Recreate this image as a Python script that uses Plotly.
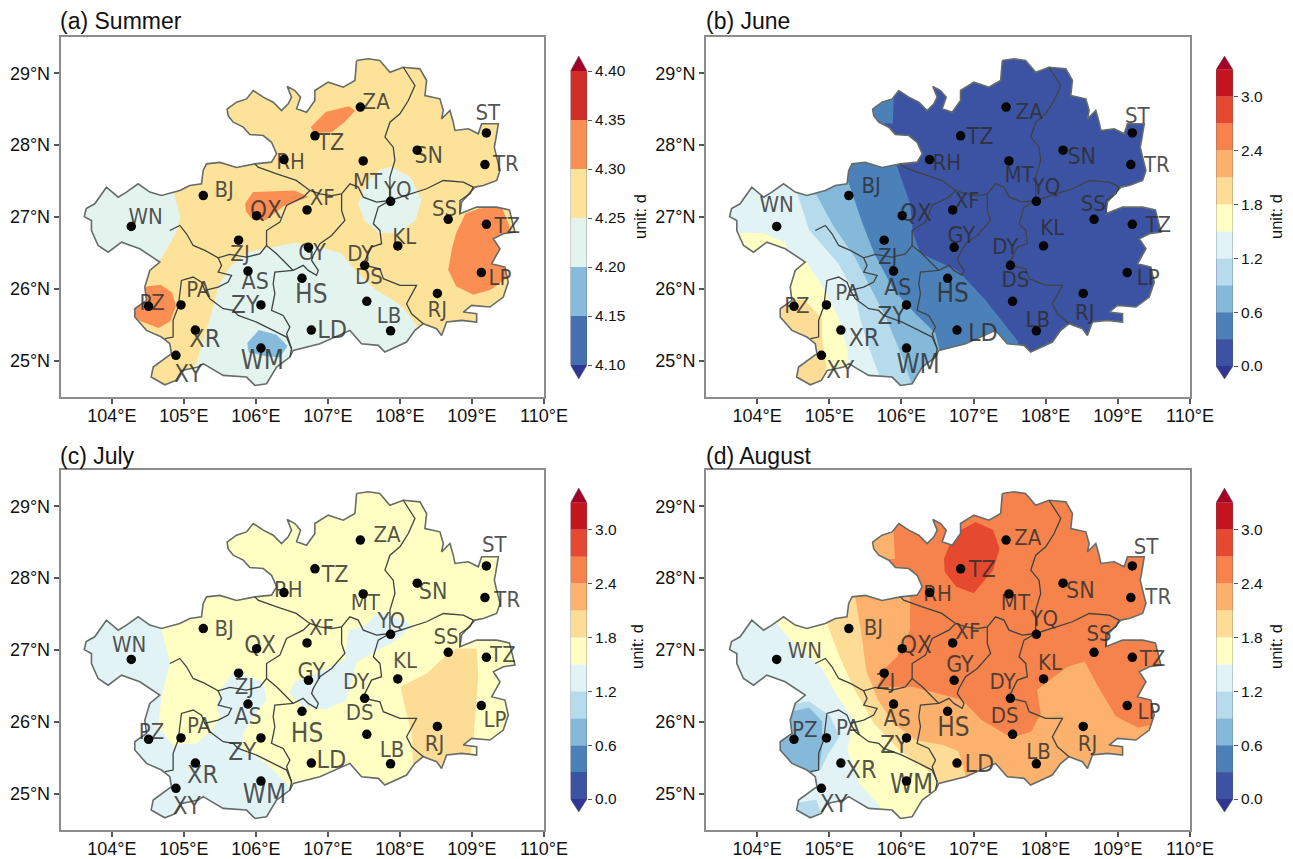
import plotly.graph_objects as go

W, H = 1293, 859

# ---------- data (degrees) ----------
XTICKS = [104, 105, 106, 107, 108, 109, 110]
XTICK_LABELS = ["104°E", "105°E", "106°E", "107°E", "108°E", "109°E", "110°E"]
YTICKS = [25, 26, 27, 28, 29]
YTICK_LABELS = ["25°N", "26°N", "27°N", "28°N", "29°N"]
LON_RANGE = [103.29, 110.0]
LAT_RANGE = [24.5, 29.51]

OUTLINE = [
    (107.398,29.176),(107.56,29.2),(107.72,29.176),(107.861,29.014),(108.046,29.083),(108.278,29.06),
    (108.37,28.898),(108.347,28.69),(108.555,28.644),(108.602,28.482),(108.578,28.366),(108.694,28.482),
    (108.74,28.32),(108.764,28.204),(108.949,28.227),(109.088,28.158),(109.134,28.297),(109.366,28.297),
    (109.328,28.065),(109.31,27.973),(109.343,27.834),(109.389,27.649),(109.343,27.51),(109.157,27.44),
    (109.041,27.417),(108.856,27.209),(108.833,27.046),(109.065,27.139),(109.343,27.139),(109.52,27.1),
    (109.597,26.792),(109.435,26.769),(109.296,26.699),(109.389,26.56),(109.273,26.352),(109.458,26.306),
    (109.504,26.097),(109.435,25.889),(109.25,25.75),(108.995,25.773),(108.879,25.681),(109.065,25.657),
    (109.065,25.542),(108.856,25.565),(108.648,25.542),(108.578,25.356),(108.509,25.449),
    (108.324,25.519),(108.208,25.426),(108.092,25.264),(107.791,25.125),(107.699,25.218),(107.467,25.241),
    (107.305,25.426),(106.889,25.241),(106.518,25.148),(106.472,25.055),(106.287,24.916),(106.148,24.685),
    (105.986,24.661),(105.87,24.777),(105.546,24.8),(105.268,24.963),(105.199,24.916),(104.972,24.87),
    (104.889,24.731),(104.736,24.67),(104.546,24.777),(104.574,24.916),(104.736,25.032),(104.828,25.101),
    (104.805,25.24),(104.689,25.333),(104.481,25.426),(104.319,25.611),(104.319,25.726),(104.481,25.842),
    (104.458,26.027),(104.527,26.259),(104.666,26.375),(104.527,26.467),(104.388,26.56),(104.134,26.652),
    (103.949,26.513),(103.81,26.606),(103.717,26.814),(103.717,26.953),(103.617,27.007),(103.644,27.12),
    (103.763,27.185),(103.925,27.416),(104.088,27.277),(104.203,27.347),(104.365,27.463),(104.527,27.347),
    (104.689,27.3),(104.944,27.37),(105.083,27.44),(105.245,27.463),(105.268,27.648),(105.315,27.74),
    (105.5,27.76),(105.73,27.69),(105.986,27.74),(106.217,27.764),(106.287,27.88),(106.217,28.04),
    (106.102,28.134),(105.916,28.148),(105.824,28.25),(105.685,28.32),(105.615,28.41),(105.6,28.5),
    (105.731,28.597),(105.87,28.643),(105.963,28.759),(106.102,28.667),(106.24,28.597),(106.356,28.481),
    (106.449,28.574),(106.495,28.667),(106.435,28.815),(106.541,28.759),(106.62,28.667),(106.565,28.505),
    (106.703,28.458),(106.819,28.62),(106.819,28.759),(107.004,28.875),(107.213,28.805),(107.375,28.898),
    (107.398,29.176),
]
BORDER_BIJIE = [
    (104.805,26.814),(104.944,26.884),(105.037,26.768),(105.129,26.606),(105.291,26.537),(105.476,26.435),
    (105.638,26.481),(105.87,26.444),(106.055,26.49),(106.148,26.606),(106.148,26.814),(106.333,26.93),
    (106.425,27.162),(106.657,27.277),(106.75,27.37),(106.56,27.51),(106.29,27.6),(106.03,27.694),(105.986,27.74),
]
BORDER_NORTH = [
    (106.75,27.37),(106.889,27.324),(107.051,27.3),(107.19,27.324),(107.305,27.463),(107.421,27.417),
    (107.491,27.278),(107.676,27.208),(107.861,27.231),(108.139,27.324),(108.37,27.394),(108.602,27.509),
    (108.88,27.486),(109.018,27.417),(108.972,27.324),(108.833,27.231),(108.833,27.046),
]
BORDER_TONGREN = [
    (108.046,29.083),(108.208,28.829),(108.116,28.62),(108.0,28.435),(107.861,28.319),(107.792,28.111),
    (107.907,27.972),(107.93,27.787),(107.861,27.555),(107.861,27.231),
]
BORDER_GUIYANG = [
    (107.19,27.324),(107.19,27.09),(107.236,26.954),(107.051,26.745),(106.889,26.63),(106.796,26.467),
    (106.773,26.398),(106.866,26.259),(106.842,26.19),(106.727,26.259),(106.657,26.329),(106.518,26.259),
]
BORDER_QIANNAN = [
    (106.148,26.606),(106.287,26.49),(106.425,26.351),(106.518,26.259),(106.263,26.236),(106.24,26.074),
    (106.263,25.935),(106.217,25.703),(106.379,25.634),(106.472,25.472),(106.426,25.379),(106.495,25.171),(106.472,25.055),
]
BORDER_QIANXINAN = [
    (104.736,25.31),(104.851,25.333),(104.851,25.565),(104.921,25.75),(104.944,25.935),(104.967,26.12),
    (105.129,26.167),(105.245,26.097),(105.291,25.981),(105.361,25.865),(105.546,25.727),(105.685,25.703),
    (105.754,25.634),(106.009,25.541),(106.24,25.425),(106.425,25.333),(106.495,25.171),
]
BORDER_ANSHUN = [
    (105.476,26.435),(105.523,26.328),(105.476,26.236),(105.662,26.19),(105.615,26.097),(105.476,26.027),(105.291,25.981),
]
BORDER_QIANDONGNAN = [
    (107.861,27.231),(107.699,27.139),(107.63,26.907),(107.722,26.815),(107.745,26.63),(107.606,26.583),
    (107.514,26.398),(107.514,26.329),(107.722,26.282),(107.769,26.144),(108.0,26.051),(108.231,26.051),
    (108.092,25.796),(108.162,25.657),(108.324,25.519),
]
BORDERS = [BORDER_BIJIE, BORDER_NORTH, BORDER_TONGREN, BORDER_GUIYANG, BORDER_QIANNAN,
           BORDER_QIANXINAN, BORDER_ANSHUN, BORDER_QIANDONGNAN]

STATION_LON = [104.27,105.27,106.01,105.76,105.89,104.51,104.96,106.07,105.16,104.89,106.07,106.77,106.64,106.73,106.71,
               106.39,106.82,107.45,107.49,107.87,108.24,109.20,109.18,108.67,109.20,107.97,107.51,107.54,107.87,108.52,109.13]
STATION_LAT = [26.87,27.30,27.02,26.68,26.25,25.76,25.78,25.78,25.43,25.08,25.18,25.43,26.15,26.58,27.10,
               27.80,28.13,28.53,27.78,27.22,27.93,28.17,27.73,26.97,26.90,26.60,26.33,25.83,25.42,25.94,26.23]
LABELS = ["WN","BJ","QX","ZJ","AS","PZ","PA","ZY","XR","XY","WM","LD","HS","GY","XF",
          "RH","TZ","ZA","MT","YQ","SN","ST","TR","SS","TZ","KL","DY","DS","LB","RJ","LP"]
LABEL_SIZES = [22,22,24,22,23,22,22,24,25,24,26,25,26,23,22,
               22,23,22,22,22,23,22,22,22,22,22,22,22,22,22,22]

LABELS_A = [(104.47,26.98),(105.56,27.35),(106.14,27.07),(105.78,26.47),(105.99,26.08),(104.56,25.79),(105.2,25.96),
            (105.85,25.75),(105.29,25.28),(105.06,24.79),(106.09,24.98),(107.06,25.41),(106.77,25.90),(106.78,26.48),
            (106.92,27.24),(106.48,27.75),(107.04,28.01),(107.67,28.58),(107.55,27.47),(107.97,27.35),(108.40,27.83),
            (109.22,28.42),(109.47,27.72),(108.62,27.09),(109.49,26.85),(108.06,26.70),(107.45,26.46),(107.57,26.15),
            (107.85,25.60),(108.52,25.69),(109.39,26.13)]
LABELS_B = [(104.27,27.15),(105.58,27.41),(106.20,27.03),(105.81,26.43),(105.95,26.0),(104.55,25.75),(105.25,25.92),
            (105.86,25.6),(105.48,25.30),(105.15,24.85),(106.23,24.93),(107.13,25.36),(106.71,25.91),(106.83,26.72),
            (106.91,27.21),(106.63,27.73),(107.09,28.10),(107.77,28.44),(107.63,27.56),(108.01,27.40),(108.5,27.82),
            (109.27,28.39),(109.54,27.70),(108.66,27.16),(109.56,26.87),(108.09,26.83),(107.44,26.57),(107.58,26.11),
            (107.89,25.55),(108.54,25.65),(109.42,26.13)]
LABELS_C = [(104.24,27.05),(105.56,27.27),(106.06,27.05),(105.84,26.47),(105.89,26.05),(104.55,25.84),(105.21,25.92),
            (105.81,25.56),(105.26,25.24),(105.04,24.81),(106.12,24.97),(107.05,25.45),(106.71,25.82),(106.77,26.68),
            (106.91,27.28),(106.45,27.81),(107.10,28.03),(107.82,28.58),(107.52,27.63),(107.88,27.38),(108.46,27.79),
            (109.31,28.44),(109.49,27.68),(108.64,27.16),(109.43,26.91),(108.07,26.83),(107.39,26.54),(107.44,26.11),
            (107.89,25.59),(108.48,25.68),(109.32,26.01)]
LABELS_D = [(104.66,26.96),(105.61,27.28),(106.20,27.05),(105.78,26.53),(105.94,26.03),(104.66,25.87),(105.26,25.9),
            (105.9,25.66),(105.44,25.31),(105.06,24.83),(106.14,25.10),(107.08,25.39),(106.72,25.9),(106.81,26.78),
            (106.92,27.23),(106.5,27.76),(107.12,28.10),(107.75,28.54),(107.58,27.63),(107.98,27.41),(108.48,27.81),
            (109.39,28.41),(109.56,27.72),(108.74,27.2),(109.48,26.86),(108.06,26.8),(107.4,26.53),(107.43,26.07),
            (107.9,25.57),(108.58,25.68),(109.43,26.12)]

# band colours
SUMMER_LEVELS = [4.10, 4.15, 4.20, 4.25, 4.30, 4.35, 4.40]
SUMMER_COLORS = ["#4470b0", "#86bbdc", "#e3f4ee", "#fde39a", "#fb8f53", "#d12e27"]
MONTH_LEVELS = [0.0, 0.3, 0.6, 0.9, 1.2, 1.5, 1.8, 2.1, 2.4, 2.7, 3.0, 3.3]
MONTH_COLORS = ["#3c52a3", "#4c80b9", "#85b9da", "#b5dbec", "#e2f3f6", "#ffffc4", "#fddc96",
                "#fcb26c", "#f6824c", "#e5492f", "#c5161f"]
LOW_TIP, HIGH_TIP = "#313695", "#a50026"
SUMMER_TICKS = [4.10, 4.15, 4.20, 4.25, 4.30, 4.35, 4.40]
MONTH_TICKS = [0.0, 0.6, 1.2, 1.8, 2.4, 3.0]

# (a) Summer regions
A_BASE = "#fde39a"
A_WEST = [(103.3,27.7),(104.84,27.42),(104.95,27.0),(104.89,26.78),(104.68,26.41),(103.3,26.3)]
A_YQ = [(107.87,27.70),(108.14,27.56),(108.30,27.24),(108.22,26.96),(107.98,26.78),(107.71,26.78),(107.5,26.96),
        (107.42,27.19),(107.53,27.47),(107.71,27.65)]
A_SOUTH = [(105.16,24.93),(105.40,25.72),(105.48,26.04),(105.64,26.31),(105.90,26.52),(106.28,26.59),(106.54,26.64),
           (106.86,26.59),(107.18,26.50),(107.39,26.25),(107.66,25.99),(107.93,25.83),(108.06,25.72),(108.24,25.48),
           (108.46,24.5),(105.16,24.5)]
A_TZ = [(106.76,28.25),(106.97,28.46),(107.29,28.54),(107.38,28.48),(107.23,28.32),(107.05,28.18),(106.81,28.17)]
A_QX = [(105.85,27.19),(105.96,27.35),(106.54,27.37),(106.73,27.28),(106.38,27.15),(106.14,26.96),(105.96,26.96),(105.86,27.08)]
A_EAST = [(108.91,27.05),(109.10,27.12),(109.41,27.15),(109.52,26.87),(109.44,26.5),(109.52,26.18),(109.26,25.99),
          (109.02,25.92),(108.78,26.04),(108.67,26.27),(108.72,26.55),(108.78,26.78)]
A_PZ = [(104.49,26.04),(104.68,26.06),(104.84,25.95),(104.89,25.76),(104.81,25.55),(104.65,25.46),(104.41,25.55),(104.2,25.67),(104.39,25.95)]
A_WM = [(105.88,25.25),(106.04,25.43),(106.28,25.37),(106.44,25.21),(106.33,25.05),(106.12,25.07),(105.9,25.12)]

# (b) June regions
B_POCKET = [(105.2,28.8),(105.9,28.8),(105.88,28.3),(105.2,28.3)]
B_06 = [(105.91,27.79),(106.12,27.19),(106.16,26.78),(106.26,26.5),(106.79,26.25),(107.16,25.85),(107.61,25.28),(107.74,24.5),(103.3,24.5),(103.3,27.8)]
B_09 = [(105.19,27.7),(105.33,27.28),(105.46,26.91),(105.62,26.5),(105.89,25.99),(106.2,25.65),(106.47,25.39),(106.58,24.93),(106.58,24.5),(103.3,24.5),(103.3,27.7)]
B_12 = [(104.82,27.31),(105.06,26.87),(105.35,26.45),(105.59,25.99),(105.78,25.62),(105.91,25.3),(106.04,24.98),(106.2,24.5),(103.3,24.5),(103.3,27.5)]
B_15 = [(104.5,27.5),(104.72,26.82),(105.12,26.36),(105.35,25.95),(105.43,25.58),(105.54,25.21),(105.7,24.77),(105.78,24.5),(103.3,24.5),(103.3,27.5)]
B_18_WN = [(103.6,26.78),(104.08,26.78),(104.4,26.64),(104.4,26.31),(103.6,26.31)]
B_18_S = [(104.66,26.41),(104.9,26.04),(105.12,25.62),(105.25,25.16),(105.27,24.5),(104.13,24.5),(104.13,26.41)]
B_21 = [(104.13,25.85),(104.66,25.85),(104.9,25.58),(104.9,25.3),(104.96,24.93),(104.93,24.5),(104.13,24.5)]

# (c) July regions
C_WEST = [(103.3,27.6),(104.69,27.46),(104.69,27.3),(104.805,26.814),(104.689,26.351),(104.643,25.935),(104.851,25.68),
          (105.175,25.703),(105.407,25.912),(105.5,26.074),(105.453,26.213),(105.523,26.467),(105.685,26.699),(105.824,26.652),
          (106.1,26.56),(106.148,26.305),(105.963,26.074),(105.824,25.843),(105.8,25.61),(106.009,25.518),(106.194,25.379),
          (106.403,25.171),(106.518,25.032),(106.518,24.5),(103.3,24.5)]
C_CENTER = [(107.71,27.53),(108.09,27.4),(108.16,27.33),(107.93,27.12),(107.66,26.98),(107.39,26.82),(107.34,26.59),(107.26,26.31),
            (106.97,26.17),(106.65,26.22),(106.46,26.4),(106.54,26.56),(106.86,26.68),(107.23,26.86),(107.29,27.28),(107.5,27.33)]
C_EAST = [(108.009,26.491),(108.37,26.676),(108.648,26.931),(108.787,27.023),(109.065,27.023),(109.088,26.63),(109.019,25.75),
          (108.926,25.287),(108.555,25.195),(108.185,25.287),(108.162,25.843),(108.069,26.213)]

# (d) August regions
D_POCKET = [(105.2,28.76),(105.89,28.67),(105.91,28.27),(105.2,28.2)]
D_24 = [(103.3,27.79),(106.12,27.79),(106.12,27.28),(105.94,26.91),(105.75,26.72),(105.67,26.49),(106.15,26.49),(106.58,26.38),
        (106.84,26.31),(107.11,26.03),(107.53,25.78),(107.8,25.87),(107.93,26.12),(107.88,26.45),(108.3,26.77),(108.54,26.84),
        (108.7,26.54),(108.97,26.08),(109.28,25.92),(109.6,25.99),(109.76,24.5),(103.3,24.5)]
D_21 = [(105.35,27.79),(105.45,27.19),(105.51,26.72),(105.67,26.31),(105.89,25.98),(106.2,25.75),(106.58,25.68),(106.79,25.59),
        (106.92,25.15),(107.05,24.5),(103.3,24.5),(103.3,27.79)]
D_18 = [(104.98,27.5),(104.98,27.33),(105.14,26.91),(105.35,26.45),(105.62,25.98),(105.96,25.62),(106.47,25.25),(106.52,24.5),(103.3,24.5),(103.3,27.5)]
D_15 = [(104.27,27.5),(104.27,27.37),(104.5,27.1),(104.88,26.77),(105.09,26.4),(105.33,26.03),(105.25,25.61),(105.41,25.15),(105.7,24.83),(105.78,24.5),(103.3,24.5),(103.3,27.5)]
D_12_PZ = [(104.35,26.22),(104.72,26.29),(105.01,26.08),(105.14,25.8),(104.98,25.55),(104.88,25.34),(104.66,25.25),(104.13,25.25)]
D_12_XY = [(104.5,24.87),(104.82,24.92),(104.88,24.74),(104.72,24.6),(104.4,24.6)]
D_09 = [(104.35,26.12),(104.72,26.2),(104.9,26.01),(104.9,25.62),(104.85,25.34),(104.35,25.25),(104.13,25.6)]
D_30 = [(106.59,28.27),(106.73,28.62),(107.03,28.78),(107.27,28.67),(107.36,28.41),(107.27,28.11),(107.0,27.79),(106.76,27.88),(106.6,28.09)]

# ---------- page layout (image pixels) ----------
PANELS = [
    dict(ax="", box=(60.7, 544.0, 36.5, 397.0), bar=(570.5, 587.0, 56.0, 379.0), title="(a) Summer", title_xy=(58, 21.5), unit_xy=(640, 217),
         levels=SUMMER_LEVELS, colors=SUMMER_COLORS, ticks=SUMMER_TICKS, fmt="{:.2f}", val_at=(4.10, 365.0, 0.05, 49.0),
         labels=LABELS_A, base=A_BASE,
         regions=[(A_WEST,"#e3f4ee"),(A_YQ,"#e3f4ee"),(A_SOUTH,"#e3f4ee"),(A_TZ,"#fb8f53"),(A_QX,"#fb8f53"),(A_EAST,"#fb8f53"),(A_PZ,"#fb8f53"),(A_WM,"#86bbdc")]),
    dict(ax="2", box=(706.0, 1190.0, 36.5, 397.0), bar=(1216.0, 1233.0, 56.0, 379.0), title="(b) June", title_xy=(704, 21.5), unit_xy=(1276, 217),
         levels=MONTH_LEVELS, colors=MONTH_COLORS, ticks=MONTH_TICKS, fmt="{:.1f}", val_at=(0.0, 366.0, 0.3, 26.93),
         labels=LABELS_B, base=MONTH_COLORS[0],
         regions=[(B_POCKET,MONTH_COLORS[1]),(B_06,MONTH_COLORS[1]),(B_09,MONTH_COLORS[2]),(B_12,MONTH_COLORS[3]),(B_15,MONTH_COLORS[4]),
                  (B_18_WN,MONTH_COLORS[5]),(B_18_S,MONTH_COLORS[5]),(B_21,MONTH_COLORS[6])]),
    dict(ax="3", box=(60.7, 544.0, 469.5, 830.0), bar=(570.5, 587.0, 488.0, 812.0), title="(c) July", title_xy=(58, 456), unit_xy=(637, 647),
         levels=MONTH_LEVELS, colors=MONTH_COLORS, ticks=MONTH_TICKS, fmt="{:.1f}", val_at=(0.0, 799.0, 0.3, 26.93),
         labels=LABELS_C, base=MONTH_COLORS[5],
         regions=[(C_WEST,MONTH_COLORS[4]),(C_CENTER,MONTH_COLORS[4]),(C_EAST,MONTH_COLORS[6])]),
    dict(ax="4", box=(706.0, 1190.0, 469.5, 830.0), bar=(1216.0, 1233.0, 488.0, 812.0), title="(d) August", title_xy=(704, 456), unit_xy=(1276, 647),
         levels=MONTH_LEVELS, colors=MONTH_COLORS, ticks=MONTH_TICKS, fmt="{:.1f}", val_at=(0.0, 799.0, 0.3, 26.93),
         labels=LABELS_D, base=MONTH_COLORS[8],
         regions=[(D_30,MONTH_COLORS[9]),(D_POCKET,MONTH_COLORS[7]),(D_24,MONTH_COLORS[7]),(D_21,MONTH_COLORS[6]),(D_18,MONTH_COLORS[5]),
                  (D_15,MONTH_COLORS[4]),(D_12_PZ,MONTH_COLORS[3]),(D_12_XY,MONTH_COLORS[3]),(D_09,MONTH_COLORS[2])]),
]

FONT = "Liberation Sans"
TXT = "#111111"
fig = go.Figure()
layout = {}
annotations = []


def xs(points):
    return [p[0] for p in points]


def ys(points):
    return [p[1] for p in points]


def px(v):
    return v / W


def py(v):
    return 1 - v / H


for i, p in enumerate(PANELS):
    ax = p["ax"]
    xa, ya = "x" + ax, "y" + ax
    cbx = "x" + str(5 + i)
    cby = "y" + str(5 + i)
    x0, x1, y0, y1 = p["box"]
    layout["xaxis" + ax] = dict(domain=[px(x0), px(x1)], range=LON_RANGE, anchor=ya, tickvals=XTICKS, ticktext=XTICK_LABELS,
                                ticks="outside", ticklen=5, tickcolor="#555555", tickwidth=1.5, showline=True, mirror=True,
                                linecolor="#8c8c8c", linewidth=2, showgrid=False, zeroline=False, automargin=False,
                                ticklabelstandoff=-4, tickfont=dict(family=FONT, size=18, color=TXT))
    layout["yaxis" + ax] = dict(domain=[py(y1), py(y0)], range=LAT_RANGE, anchor=xa, tickvals=YTICKS, ticktext=YTICK_LABELS,
                                ticks="outside", ticklen=5, tickcolor="#555555", tickwidth=1.5, showline=True, mirror=True,
                                linecolor="#8c8c8c", linewidth=2, showgrid=False, zeroline=False, automargin=False,
                                tickfont=dict(family=FONT, size=18, color=TXT))

    common = dict(xaxis=xa, yaxis=ya, showlegend=False, hoverinfo="skip")
    # province base colour and contour bands
    fig.add_trace(go.Scatter(x=xs(OUTLINE), y=ys(OUTLINE), mode="lines", line=dict(width=0), fill="toself", fillcolor=p["base"], **common))
    for region, colour in p["regions"]:
        fig.add_trace(go.Scatter(x=xs(region), y=ys(region), mode="lines", line=dict(width=0), fill="toself", fillcolor=colour, **common))
    # white mask around the province (clips bands to the outline)
    rx = [LON_RANGE[0], LON_RANGE[1], LON_RANGE[1], LON_RANGE[0], LON_RANGE[0], None]
    ry = [LAT_RANGE[0], LAT_RANGE[0], LAT_RANGE[1], LAT_RANGE[1], LAT_RANGE[0], None]
    fig.add_trace(go.Scatter(x=rx + xs(OUTLINE), y=ry + ys(OUTLINE), mode="lines", line=dict(width=0), fill="toself", fillcolor="white", **common))
    # borders
    fig.add_trace(go.Scatter(x=xs(OUTLINE), y=ys(OUTLINE), mode="lines", line=dict(color="#666c6a", width=1.6), **common))
    for b in BORDERS:
        fig.add_trace(go.Scatter(x=xs(b), y=ys(b), mode="lines", line=dict(color="#3f4442", width=1.3), **common))
    # labels then dots
    fig.add_trace(go.Scatter(x=xs(p["labels"]), y=ys(p["labels"]), mode="text", text=LABELS,
                             textfont=dict(family="DejaVu Sans Condensed, DejaVu Sans", size=LABEL_SIZES, color="rgba(45,45,45,0.82)"), **common))
    fig.add_trace(go.Scatter(x=STATION_LON, y=STATION_LAT, mode="markers", marker=dict(color="#050505", size=9.5), **common))

    # colour bar
    bx0, bx1, by0, by1 = p["bar"]
    v0, p0, dv, dp = p["val_at"]
    val = lambda pix: v0 + (p0 - pix) / dp * dv
    layout["xaxis" + str(5 + i)] = dict(domain=[px(bx0), px(bx1)], range=[-0.5, 0.5], anchor=cby, visible=False, fixedrange=True, automargin=False)
    layout["yaxis" + str(5 + i)] = dict(domain=[py(by1), py(by0)], range=[val(by1), val(by0)], anchor=cbx, side="right",
                                        tickvals=p["ticks"], ticktext=[p["fmt"].format(t) for t in p["ticks"]],
                                        ticks="outside", ticklen=4, tickcolor="#555555", showline=False, showgrid=False,
                                        zeroline=False, automargin=False, tickfont=dict(family=FONT, size=15.5, color=TXT))
    lv = p["levels"]
    cb_common = dict(xaxis=cbx, yaxis=cby, showlegend=False, hoverinfo="skip")
    fig.add_trace(go.Bar(x=[0] * len(p["colors"]), y=[b - a for a, b in zip(lv[:-1], lv[1:])], base=lv[:-1], width=1,
                         marker=dict(color=p["colors"], line=dict(width=0)), **cb_common))
    lo, hi = lv[0], lv[-1]
    lo_tip, hi_tip = val(by1), val(by0)
    fig.add_trace(go.Scatter(x=[-0.5, 0.5, 0, -0.5], y=[lo, lo, lo_tip, lo], mode="lines", line=dict(width=0), fill="toself", fillcolor=LOW_TIP, **cb_common))
    fig.add_trace(go.Scatter(x=[-0.5, 0.5, 0, -0.5], y=[hi, hi, hi_tip, hi], mode="lines", line=dict(width=0), fill="toself", fillcolor=HIGH_TIP, **cb_common))
    fig.add_trace(go.Scatter(x=[-0.5, -0.5, 0, 0.5, 0.5, 0, -0.5], y=[lo, hi, hi_tip, hi, lo, lo_tip, lo], mode="lines",
                             line=dict(color="rgba(90,90,100,0.55)", width=1), **cb_common))

    annotations.append(dict(text=p["title"], x=px(p["title_xy"][0]), y=py(p["title_xy"][1]), xref="paper", yref="paper", xanchor="left", yanchor="middle",
                            showarrow=False, font=dict(family=FONT, size=23, color=TXT)))
    annotations.append(dict(text="unit: d", x=px(p["unit_xy"][0]), y=py(p["unit_xy"][1]), xref="paper", yref="paper", xanchor="center", yanchor="middle",
                            textangle=-90, showarrow=False, font=dict(family=FONT, size=16.5, color=TXT)))

fig.update_layout(width=W, height=H, margin=dict(l=0, r=0, t=0, b=0), paper_bgcolor="white", plot_bgcolor="white",
                  annotations=annotations, **layout)
fig.write_html("out.html", post_script="document.body.style.margin='0';", config={"displayModeBar": False})
